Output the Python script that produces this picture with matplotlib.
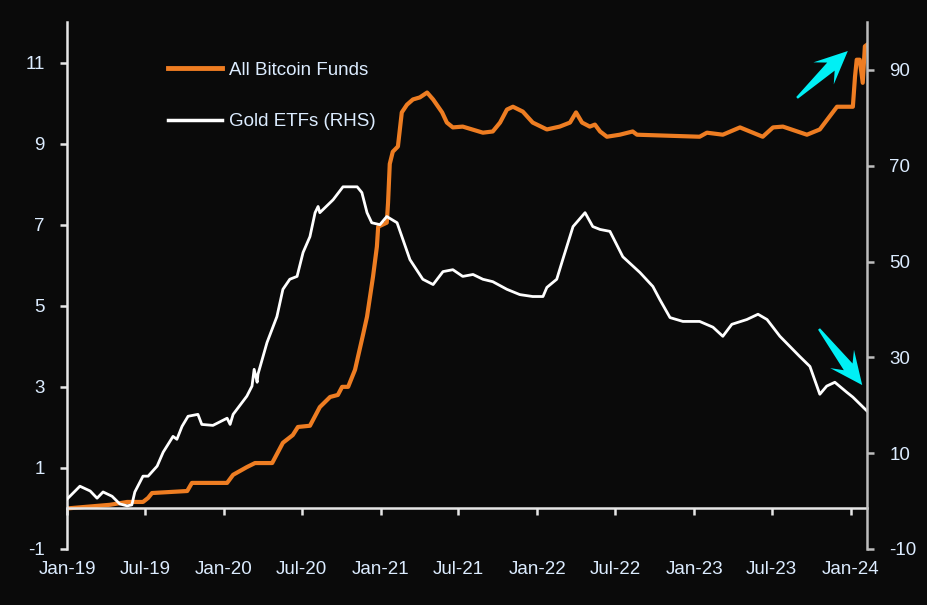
import numpy as np
import pandas as pd
import matplotlib.pyplot as plt
import matplotlib.dates as mdates
from matplotlib.patches import Polygon

# All Bitcoin Funds (LHS)
btc_dates = ["2019-01-01", "2019-04-11", "2019-05-21", "2019-06-27", "2019-07-09", "2019-07-18",
             "2019-10-08", "2019-10-19", "2020-01-09", "2020-01-23", "2020-02-24", "2020-03-14",
             "2020-04-23", "2020-05-18", "2020-06-10", "2020-06-22", "2020-07-20", "2020-08-12",
             "2020-09-05", "2020-09-23", "2020-10-03", "2020-10-17", "2020-11-02", "2020-11-21",
             "2020-11-30", "2020-12-14", "2020-12-23", "2020-12-26", "2021-01-15", "2021-01-18",
             "2021-01-22", "2021-01-29", "2021-02-10", "2021-02-19", "2021-03-03", "2021-03-17",
             "2021-04-02", "2021-04-19", "2021-05-03", "2021-05-24", "2021-06-04", "2021-06-18",
             "2021-07-11", "2021-08-27", "2021-09-19", "2021-10-06", "2021-10-22", "2021-11-05",
             "2021-11-28", "2021-12-21", "2022-01-23", "2022-02-22", "2022-03-18", "2022-04-01",
             "2022-04-15", "2022-05-03", "2022-05-15", "2022-05-27", "2022-06-12", "2022-07-12",
             "2022-08-11", "2022-08-21", "2023-01-14", "2023-01-31", "2023-03-09", "2023-04-18",
             "2023-06-10", "2023-07-04", "2023-07-27", "2023-09-21", "2023-10-21", "2023-11-30",
             "2024-01-06", "2024-01-11", "2024-01-15", "2024-01-22", "2024-01-29", "2024-02-03",
             "2024-02-08"]
btc_vals = [0.0, 0.09, 0.16, 0.16, 0.26, 0.38,
            0.43, 0.63, 0.63, 0.83, 1.02, 1.12,
            1.12, 1.62, 1.81, 2.01, 2.04, 2.5,
            2.75, 2.8, 3.0, 3.0, 3.42, 4.3,
            4.73, 5.72, 6.46, 6.95, 7.05, 7.54,
            8.5, 8.8, 8.93, 9.77, 9.96, 10.09,
            10.14, 10.26, 10.09, 9.77, 9.52, 9.4,
            9.42, 9.27, 9.3, 9.52, 9.84, 9.91,
            9.79, 9.52, 9.35, 9.42, 9.52, 9.77,
            9.52, 9.42, 9.47, 9.3, 9.17, 9.22,
            9.3, 9.22, 9.17, 9.27, 9.22, 9.4,
            9.17, 9.4, 9.42, 9.22, 9.35, 9.91,
            9.91, 10.65, 11.07, 11.07, 10.5, 11.4,
            11.44]

# Gold ETFs (RHS)
gold_dates = ["2019-01-01", "2019-01-31", "2019-02-24", "2019-03-12", "2019-03-26", "2019-04-16",
              "2019-05-04", "2019-05-21", "2019-06-01", "2019-06-08", "2019-06-27", "2019-07-09",
              "2019-07-30", "2019-08-13", "2019-09-05", "2019-09-14", "2019-09-26", "2019-10-10",
              "2019-11-02", "2019-11-11", "2019-12-07", "2020-01-09", "2020-01-16", "2020-01-23",
              "2020-02-24", "2020-03-07", "2020-03-12", "2020-03-19", "2020-03-21", "2020-04-11",
              "2020-05-04", "2020-05-18", "2020-06-03", "2020-06-20", "2020-07-04", "2020-07-20",
              "2020-08-01", "2020-08-08", "2020-08-12", "2020-09-12", "2020-10-05", "2020-11-07",
              "2020-11-18", "2020-11-30", "2020-12-11", "2020-12-30", "2021-01-15", "2021-02-08",
              "2021-03-10", "2021-04-09", "2021-05-03", "2021-05-26", "2021-06-18", "2021-07-11",
              "2021-08-04", "2021-08-27", "2021-09-19", "2021-10-22", "2021-11-21", "2021-12-21",
              "2022-01-14", "2022-01-23", "2022-02-15", "2022-03-01", "2022-03-25", "2022-04-22",
              "2022-05-10", "2022-05-27", "2022-06-19", "2022-07-19", "2022-08-28", "2022-09-27",
              "2022-10-13", "2022-11-06", "2022-12-06", "2023-01-14", "2023-02-14", "2023-03-09",
              "2023-03-30", "2023-05-04", "2023-05-30", "2023-06-20", "2023-07-20", "2023-09-04",
              "2023-09-28", "2023-10-21", "2023-11-06", "2023-11-25", "2023-12-23", "2024-01-06",
              "2024-02-08"]
gold_vals = [0.4, 3.1, 2.1, 0.6, 1.9, 1.0,
             -0.6, -1.0, -0.8, 1.9, 5.2, 5.2,
             7.3, 10.2, 13.5, 12.9, 15.6, 17.7,
             18.1, 16.0, 15.8, 17.3, 16.0, 18.1,
             21.9, 24.0, 27.5, 24.8, 26.5, 33.1,
             38.5, 44.2, 46.3, 46.9, 51.9, 55.2,
             60.2, 61.5, 60.2, 62.9, 65.6, 65.6,
             64.4, 60.2, 58.1, 57.7, 59.4, 58.1,
             50.4, 46.3, 45.2, 47.9, 48.3, 46.9,
             47.3, 46.3, 45.8, 44.2, 43.1, 42.7,
             42.7, 44.6, 46.3, 50.4, 57.3, 60.2,
             57.3, 56.7, 56.3, 51.0, 47.7, 44.8,
             42.1, 38.3, 37.5, 37.5, 36.3, 34.4,
             36.9, 37.9, 39.0, 37.9, 34.4, 30.2,
             28.1, 22.3, 24.0, 24.8, 22.7, 21.7,
             18.8]

bg = "#0a0a0a"
txt = "#dcecff"
orange = "#ee7d22"
plt.rcParams["font.family"] = ["Liberation Sans", "DejaVu Sans"]
plt.rcParams["font.size"] = 13.5
plt.rcParams["axes.unicode_minus"] = False

fig = plt.figure(figsize=(9.27, 6.05), dpi=100, facecolor=bg)
ax = fig.add_axes([0.0723, 0.0926, 0.863, 0.871])
ax.set_facecolor(bg)
ax2 = ax.twinx()

l1, = ax.plot(pd.to_datetime(btc_dates), btc_vals, color=orange, lw=3.0,
              solid_joinstyle="round", label="All Bitcoin Funds")
l2, = ax2.plot(pd.to_datetime(gold_dates), gold_vals, color="white", lw=2.0,
               label="Gold ETFs (RHS)")

ax.set_xlim(pd.Timestamp("2019-01-01"), pd.Timestamp("2024-02-08"))
ax.set_ylim(-1, 12)
ax2.set_ylim(-10, 100)
ax.set_yticks(range(-1, 12, 2))
ax2.set_yticks(range(-10, 100, 20))

ax.xaxis.set_major_locator(mdates.MonthLocator(bymonth=[1, 7]))
ax.xaxis.set_major_formatter(mdates.DateFormatter("%b-%y"))

for s in ["top", "right"]:
    ax.spines[s].set_visible(False)
for s in ["top", "left", "bottom"]:
    ax2.spines[s].set_visible(False)
ax.spines["bottom"].set_position(("data", 0))
ax.spines["bottom"].set_color("#e6e6e6")
ax.spines["left"].set_color("#e6e6e6")
ax2.spines["right"].set_color("#bdbdbd")
for s in [ax.spines["bottom"], ax.spines["left"], ax2.spines["right"]]:
    s.set_linewidth(1.8)

ax.tick_params(axis="x", colors="#e6e6e6", labelcolor=txt, length=5, width=1.8, pad=33)
ax.tick_params(axis="y", colors="#e6e6e6", labelcolor=txt, length=5, width=1.8, pad=11)
ax2.tick_params(axis="y", colors="#bdbdbd", labelcolor=txt, length=5, width=1.8, pad=11)

leg = ax2.legend(handles=[l1, l2], loc="upper left", bbox_to_anchor=(0.126, 0.925),
                 frameon=False, handlelength=2.9, handletextpad=0.35, labelspacing=1.85,
                 borderpad=0, borderaxespad=0, fontsize=13.5)
for t in leg.get_texts():
    t.set_color(txt)
leg.get_lines()[0].set_linewidth(3.5)
leg.get_lines()[1].set_linewidth(2.5)


# cyan arrows: tapered shaft + swept-back head, sized in pixels
def cyan_arrow(tail, tip):
    p0 = ax.transAxes.transform(tail)
    p1 = ax.transAxes.transform(tip)
    d = p1 - p0
    L = np.hypot(*d)
    u = d / L
    n = np.array([-u[1], u[0]])
    k = fig.dpi / 100.0
    shape = [(0, -1.2), (L - 23 * k, -5.5 * k), (L - 33 * k, -15 * k), (L, 0),
             (L - 33 * k, 15 * k), (L - 23 * k, 5.5 * k), (0, 1.2)]
    pts = np.array([p0 + a * u + b * n for a, b in shape])
    pts = fig.transFigure.inverted().transform(pts)
    fig.patches.append(Polygon(pts, closed=True, transform=fig.transFigure,
                               facecolor="#00f0f5", edgecolor="none"))


cyan_arrow((0.9125, 0.856), (0.976, 0.945))
cyan_arrow((0.94, 0.4175), (0.994, 0.311))

fig.savefig("out.png", dpi=100, facecolor=bg)
